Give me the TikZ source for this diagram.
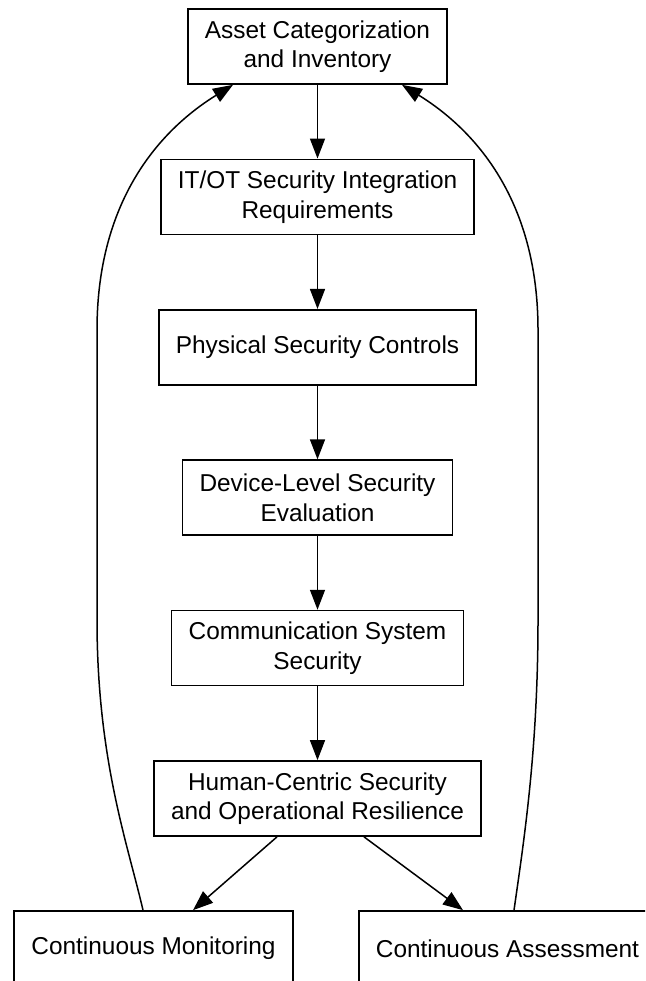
\documentclass[tikz,border=0pt]{standalone}
\usepackage{fontspec}
\setmainfont{Liberation Sans}
\usetikzlibrary{arrows.meta}
\begin{document}
\begin{tikzpicture}[x=1pt,y=-1pt,
  box/.style={draw, line width=1.7pt, align=center, inner sep=0pt,
    minimum height=75pt, font=\fontsize{24.4}{29.6}\selectfont},
  edge/.style={line width=1.5pt, -{Triangle[length=20pt,width=15pt]}}]
\useasboundingbox (0,0) rectangle (645,981);
\clip (0,0) rectangle (645,981);
\node[box, minimum width=259pt] (asset) at (317.5,46.5) {Asset Categorization\\and Inventory};
\node[box, minimum width=313pt] (itot) at (317.5,196.9) {IT/OT Security Integration\\Requirements};
\node[box, minimum width=317pt] (phys) at (317.5,347.3) {Physical Security Controls};
\node[box, minimum width=270pt] (dev) at (317.5,497.7) {Device-Level Security\\Evaluation};
\node[box, minimum width=292pt] (comm) at (317.5,648.1) {Communication System\\Security};
\node[box, minimum width=327pt] (human) at (317.5,798.5) {Human-Centric Security\\and Operational Resilience};
\node[box, minimum width=279pt] (mon) at (153.5,948.5) {Continuous Monitoring};
\node[box, minimum width=297pt] (ass) at (507.5,948.5) {Continuous Assessment};
\draw[edge] (asset) -- (itot);
\draw[edge] (itot) -- (phys);
\draw[edge] (phys) -- (dev);
\draw[edge] (dev) -- (comm);
\draw[edge] (comm) -- (human);
\draw[edge] ([xshift=-40.5pt]human.south) -- ([xshift=39.5pt]mon.north);
\draw[edge] ([xshift=46.5pt]human.south) -- ([xshift=-44.5pt]ass.north);
\draw[edge] ([xshift=-10.5pt]mon.north) .. controls (128,845) and (97,760) .. (97,620)
  -- (97,330) .. controls (97,200) and (160,130) .. ([xshift=-84.5pt]asset.south);
\draw[edge] ([xshift=6.5pt]ass.north) .. controls (524,840) and (538,750) .. (538,620)
  -- (538,330) .. controls (538,200) and (475,130) .. ([xshift=84.5pt]asset.south);
\end{tikzpicture}
\end{document}
